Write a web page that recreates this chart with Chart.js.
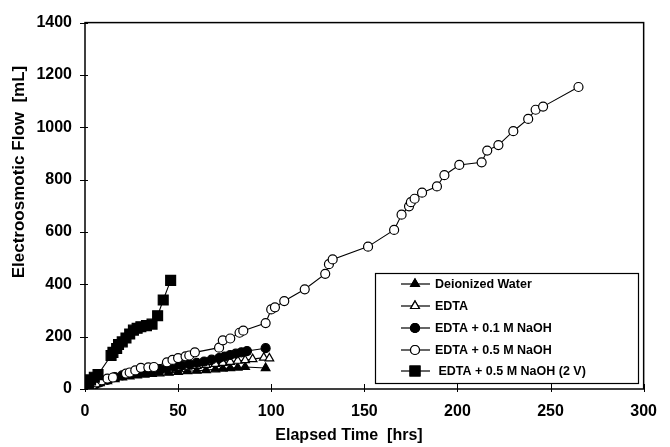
<!DOCTYPE html>
<html>
<head>
<meta charset="utf-8">
<script src="https://cdn.jsdelivr.net/npm/chart.js@4.4.1/dist/chart.umd.min.js"></script>
<style>
  html, body { margin: 0; padding: 0; background: #fff; }
  #wrap { width: 670px; height: 447px; position: relative; }
</style>
</head>
<body>
<div id="wrap"><canvas id="c" width="670" height="447"></canvas></div>
<script>
// ---- Data ----
const seriesNames = ["Deionized Water", "EDTA", "EDTA + 0.1 M NaOH", "EDTA + 0.5 M NaOH", " EDTA + 0.5 M NaOH (2 V)"];

const timeDI  = [0, 2, 5, 8, 12, 16, 20, 24, 28, 32, 36, 40, 45, 50, 55, 60, 65, 70, 74, 78, 82, 86, 97];
const flowDI  = [0, 8, 15, 22, 30, 38, 44, 48, 52, 55, 58, 60, 62, 65, 68, 70, 72, 75, 78, 80, 82, 84, 80];

const timeEDTA = [0, 2, 5, 8, 12, 16, 20, 24, 28, 32, 36, 40, 45, 50, 55, 60, 65, 70, 74, 78, 82, 86, 90, 96, 99];
const flowEDTA = [0, 8, 18, 25, 35, 42, 50, 55, 60, 65, 70, 72, 75, 80, 85, 88, 92, 96, 100, 104, 108, 110, 114, 120, 117];

const timeN01 = [0, 1, 3, 5, 8, 12, 16, 20, 24, 28, 32, 36, 40, 44, 48, 52, 56, 60, 64, 68, 72, 75, 78, 81, 84, 87, 97];
const flowN01 = [0, 5, 10, 15, 25, 35, 45, 52, 58, 63, 68, 72, 76, 80, 85, 90, 95, 100, 105, 112, 118, 124, 130, 135, 140, 145, 156];

const timeN05 = [0, 2, 4, 6, 9, 12, 15, 22, 24, 27, 30, 34, 37, 44, 47, 50, 54, 56, 59, 72, 74, 78, 83, 85, 97, 100, 102, 107, 118, 129, 131, 133, 152, 166, 170, 174, 175, 177, 181, 189, 193, 201, 213, 216, 222, 230, 238, 242, 246, 265];
const flowN05 = [0, 8, 15, 25, 33, 40, 44, 59, 63, 71, 81, 83, 84, 102, 111, 118, 125, 128, 140, 158, 186, 193, 215, 223, 252, 304, 312, 336, 381, 440, 477, 495, 544, 608, 666, 698, 714, 727, 750, 774, 817, 856, 866, 911, 932, 985, 1032, 1067, 1079, 1154];

const time2V = [0, 1, 2, 3, 5, 7, 14, 15, 17, 18, 20, 22, 24, 26, 28, 30, 33, 36, 39, 42, 46];
const flow2V = [0, 10, 20, 35, 45, 55, 128, 140, 155, 170, 180, 195, 210, 225, 232, 238, 242, 248, 280, 340, 415];

const xTicks = [0, 50, 100, 150, 200, 250, 300];
const yTicks = [0, 200, 400, 600, 800, 1000, 1200, 1400];
const xTitle = "Elapsed Time  [hrs]";
const yTitle = "Electroosmotic Flow  [mL]";

// ---- Build datasets ----
const pts = (t, v) => t.map((x, i) => ({ x: x, y: v[i] }));
const styles = [
  { style: 'triangle', fill: '#000', r: 5, order: 4 },
  { style: 'triangle', fill: '#fff', r: 5, order: 3 },
  { style: 'circle',   fill: '#000', r: 4.5, order: 2 },
  { style: 'circle',   fill: '#fff', r: 4.5, order: 1 },
  { style: 'rect',     fill: '#000', r: 7, order: 0 }
];
const allData = [pts(timeDI, flowDI), pts(timeEDTA, flowEDTA), pts(timeN01, flowN01), pts(timeN05, flowN05), pts(time2V, flow2V)];

const datasets = allData.map((d, i) => ({
  label: seriesNames[i],
  data: d,
  showLine: true,
  borderColor: '#000',
  borderWidth: 1.1,
  pointStyle: styles[i].style,
  pointRadius: styles[i].r,
  pointBackgroundColor: styles[i].fill,
  pointBorderColor: '#000',
  pointBorderWidth: 1.2,
  order: styles[i].order
}));

const FONT = "'Liberation Sans', Arial, sans-serif";

const framePlugin = {
  id: 'frame',
  afterDraw(chart) {
    const ctx = chart.ctx;
    const a = chart.chartArea;
    const xs = chart.scales.x, ys = chart.scales.y;
    ctx.save();
    ctx.strokeStyle = '#000';
    ctx.lineWidth = 1.5;
    ctx.strokeRect(a.left, a.top, a.right - a.left, a.bottom - a.top);
    ctx.lineWidth = 1;
    // tick marks
    yTicks.forEach(v => {
      const y = Math.round(ys.getPixelForValue(v)) + 0.5;
      ctx.beginPath(); ctx.moveTo(a.left - 5, y); ctx.lineTo(a.left + 3, y); ctx.stroke();
    });
    xTicks.forEach(v => {
      const x = Math.round(xs.getPixelForValue(v)) + 0.5;
      ctx.beginPath(); ctx.moveTo(x, a.bottom - 5); ctx.lineTo(x, a.bottom + 3); ctx.stroke();
    });
    // axis titles
    ctx.fillStyle = '#000';
    ctx.font = 'bold 16px ' + FONT;
    ctx.textAlign = 'center';
    ctx.textBaseline = 'middle';
    ctx.fillText(xTitle, 349, 436);
    ctx.save();
    ctx.translate(19, 172);
    ctx.rotate(-Math.PI / 2);
    ctx.font = 'bold 17px ' + FONT;
    ctx.fillText(yTitle, 0, 0);
    ctx.restore();

    // legend
    const bx = 375, by = 273, bw = 263, bh = 110;
    ctx.fillStyle = '#fff';
    ctx.fillRect(bx, by, bw, bh);
    ctx.strokeStyle = '#000';
    ctx.lineWidth = 1.2;
    ctx.strokeRect(bx + 0.5, by + 0.5, bw, bh);
    const rows = [284, 306, 328, 350, 371];
    ctx.font = 'bold 12.5px ' + FONT;
    ctx.textAlign = 'left';
    ctx.textBaseline = 'middle';
    datasets.forEach((ds, i) => {
      const y = rows[i];
      ctx.strokeStyle = '#000';
      ctx.lineWidth = 1.2;
      ctx.beginPath(); ctx.moveTo(401, y); ctx.lineTo(430, y); ctx.stroke();
      ctx.fillStyle = ds.pointBackgroundColor;
      Chart.helpers.drawPoint(ctx, {
        pointStyle: ds.pointStyle, radius: ds.pointRadius, borderWidth: 1.2, rotation: 0
      }, 415, y);
      ctx.fill();
      ctx.stroke();
      ctx.fillStyle = '#000';
      ctx.fillText(ds.label, 435, y + 1);
    });
    ctx.restore();
  }
};

new Chart(document.getElementById('c'), {
  type: 'scatter',
  data: { datasets },
  options: {
    responsive: false,
    animation: false,
    layout: { padding: { top: 16, right: 26, left: 0, bottom: 0 } },
    plugins: { legend: { display: false }, tooltip: { enabled: false } },
    scales: {
      x: {
        type: 'linear', min: 0, max: 300,
        afterBuildTicks: s => { s.ticks = xTicks.map(v => ({ value: v })); },
        afterFit: s => { s.height = 58; },
        grid: { display: false, drawTicks: false },
        border: { display: false },
        ticks: { color: '#000', padding: 13, callback: v => String(v), font: { family: FONT, size: 16, weight: 'bold' }, maxRotation: 0 }
      },
      y: {
        type: 'linear', min: 0, max: 1400,
        afterBuildTicks: s => { s.ticks = yTicks.map(v => ({ value: v })); },
        afterFit: s => { s.width = 85; },
        grid: { display: false, drawTicks: false },
        border: { display: false },
        ticks: { color: '#000', padding: 13, callback: v => String(v), font: { family: FONT, size: 16, weight: 'bold' } }
      }
    }
  },
  plugins: [framePlugin]
});
</script>
</body>
</html>
